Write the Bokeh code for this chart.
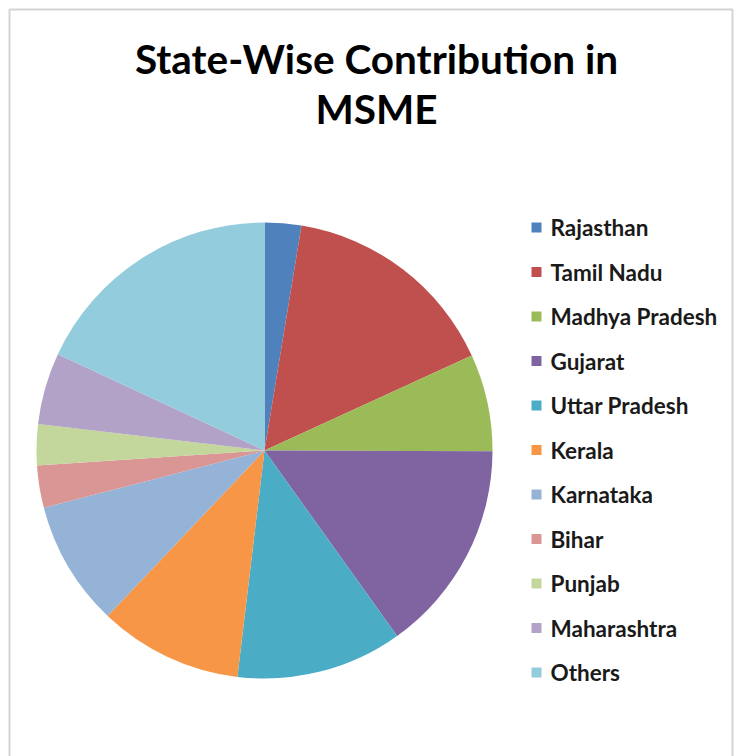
import numpy as np
from bokeh.plotting import figure
from bokeh.models import Range1d, ColumnDataSource
from bokeh.core.properties import value
from bokeh.embed import file_html
from bokeh.resources import INLINE

# ---- data ----
states = ["Rajasthan", "Tamil Nadu", "Madhya Pradesh", "Gujarat", "Uttar Pradesh",
          "Kerala", "Karnataka", "Bihar", "Punjab", "Maharashtra", "Others"]
shares = [2.6, 15.6, 6.9, 15.1, 11.8, 10.2, 8.9, 3.0, 2.9, 5.1, 18.1]
colors = ["#4F81BD", "#C0504D", "#9BBB59", "#8064A2", "#4BACC6", "#F79646",
          "#95B3D7", "#D99694", "#C3D69B", "#B3A2C7", "#93CDDD"]
title_lines = ["State-Wise Contribution in", "MSME"]

W, H = 736, 756

p = figure(width=W, height=H, output_backend="svg", toolbar_location=None,
           x_range=Range1d(0, W), y_range=Range1d(0, H), min_border=0)
p.axis.visible = False
p.grid.visible = False
p.outline_line_color = None
p.background_fill_color = "white"
p.border_fill_color = "white"

def Y(px):
    return H - px

# outer chart border
p.quad(left=[9], right=[732], top=[Y(9)], bottom=[-10],
       fill_color=None, line_color="#d4d4d4", line_width=2)

# pie
vals = np.array(shares, dtype=float)
frac = vals / vals.sum()
cum = np.concatenate([[0], np.cumsum(frac)])
start = np.pi / 2 - cum[:-1] * 2 * np.pi
end = np.pi / 2 - cum[1:] * 2 * np.pi
src = ColumnDataSource(dict(start=start, end=end, color=colors, state=states))
p.wedge(x=264, y=Y(450), radius=228, start_angle="start", end_angle="end",
        direction="clock", fill_color="color", line_color=None, source=src)

# title
p.text(x=[376, 376], y=[Y(58), Y(108)], text=title_lines,
       text_font=value("Lato"), text_font_style="bold", text_font_size="40.5px",
       text_align="center", text_baseline="middle", text_color="#000000")

# legend
n = len(states)
ly = [Y(227 + i * 44.5) for i in range(n)]
p.scatter(x=[536] * n, y=ly, marker="square", size=10, fill_color=colors, line_color=None)
p.text(x=[550] * n, y=ly, text=states, text_font=value("Lato"), text_font_style="bold",
       text_font_size="22.5px", text_align="left", text_baseline="middle",
       text_color="#1a1a1a")

open("out.html", "w").write(file_html(p, INLINE))
